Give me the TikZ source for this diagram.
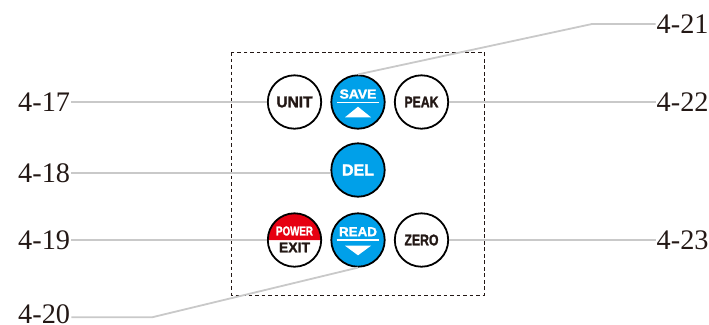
\documentclass[tikz,border=0pt]{standalone}
\usepackage{fontspec}
\setmainfont{Liberation Serif}
\setsansfont{Liberation Sans}[BoldFeatures={FakeBold=1.6}]
\definecolor{ink}{HTML}{231815}
\definecolor{keyblue}{HTML}{00A0E9}
\definecolor{keyred}{HTML}{E60012}
\definecolor{leader}{HTML}{C9C9C9}
\tikzset{
  callout/.style={inner sep=1bp,text=ink,font=\fontsize{28.3bp}{28.3bp}\selectfont},
  leaderline/.style={draw=leader,line width=1.8bp},
  key/.style={circle,draw=black,line width=1.8bp,minimum size=53.4bp,inner sep=0pt,fill=white},
  bluekey/.style={key,fill=keyblue},
  plainkey/.style={key,fill=none},
  darktxt/.style={inner sep=0pt,text=ink,font=\sffamily\bfseries\fontsize{15.5bp}{15.5bp}\selectfont},
  whitetxt/.style={inner sep=0pt,text=white,font=\sffamily\bfseries\fontsize{13bp}{13bp}\selectfont},
}
\begin{document}
\begin{tikzpicture}[x=1bp,y=-1bp]
\useasboundingbox (0,0) rectangle (709,324);
% frame
\draw[line width=1bp,draw=ink,dash pattern=on 3.8bp off 2.7bp] (231.5,52) rectangle (484,295);
% keys
\fill[keyred] (267.8,240) arc[start angle=180,end angle=360,radius=26.7] -- cycle;
\node[key] (UNIT) at (294.5,102) {};
\node[bluekey] (SAVE) at (358,102) {};
\node[key] (PEAK) at (421.5,102) {};
\node[bluekey] (DEL) at (358,170) {};
\node[plainkey] (POWER) at (294.5,240) {};
\node[bluekey] (READ) at (358,240) {};
\node[key] (ZERO) at (421.5,240) {};
% key texts
\node[darktxt] (tUNIT) at (294.5,102) {UNIT};
\node[darktxt,xscale=.79] (tPEAK) at (421.5,102) {PEAK};
\node[darktxt,xscale=.79] (tZERO) at (421.5,240) {ZERO};
\node[whitetxt,xscale=1.07] (tSAVE) at (358,94) {SAVE};
\node[whitetxt,xscale=1.03] (tREAD) at (358,231.7) {READ};
\node[whitetxt,xscale=.75] (tPOWER) at (294.5,231) {POWER};
\node[darktxt,font=\sffamily\bfseries\fontsize{14bp}{14bp}\selectfont] (tEXIT) at (294.5,247.5) {EXIT};
\node[whitetxt,font=\sffamily\bfseries\fontsize{16bp}{16bp}\selectfont] (tDEL) at (358,170) {DEL};
\draw[white,line width=1.3bp] (336.7,102.3) -- (379,102.3);
\draw[white,line width=1.3bp] (336.7,240) -- (379,240);
\fill[white] (345,117.3) -- (358,106.7) -- (371,117.3) -- cycle;
\fill[white] (345,245.7) -- (358,255.3) -- (371,245.7) -- cycle;
% labels
\node[callout,anchor=west] (L17) at (17,102) {4-17};
\node[callout,anchor=west] (L18) at (17,173) {4-18};
\node[callout,anchor=west] (L19) at (17,240) {4-19};
\node[callout,anchor=west] (L20) at (17,313.8) {4-20};
\node[callout,anchor=west] (L21) at (655.5,24) {4-21};
\node[callout,anchor=west] (L22) at (655.5,102) {4-22};
\node[callout,anchor=west] (L23) at (655.5,240) {4-23};
\coordinate (e20) at (152,317.3);
\coordinate (e21) at (592,24);
% leaders
\draw[leaderline] (L17.east) -- (UNIT.west);
\draw[leaderline] (L18.east) -- (L18.east -| DEL.west);
\draw[leaderline] (L19.east) -- (POWER.west);
\draw[leaderline] (L20.east |- e20) -- (e20) -- (READ.south);
\draw[leaderline] (L21.west) -- (e21) -- (SAVE.north);
\draw[leaderline] (L22.west) -- (PEAK.east);
\draw[leaderline] (L23.west) -- (ZERO.east);
\end{tikzpicture}
\end{document}
